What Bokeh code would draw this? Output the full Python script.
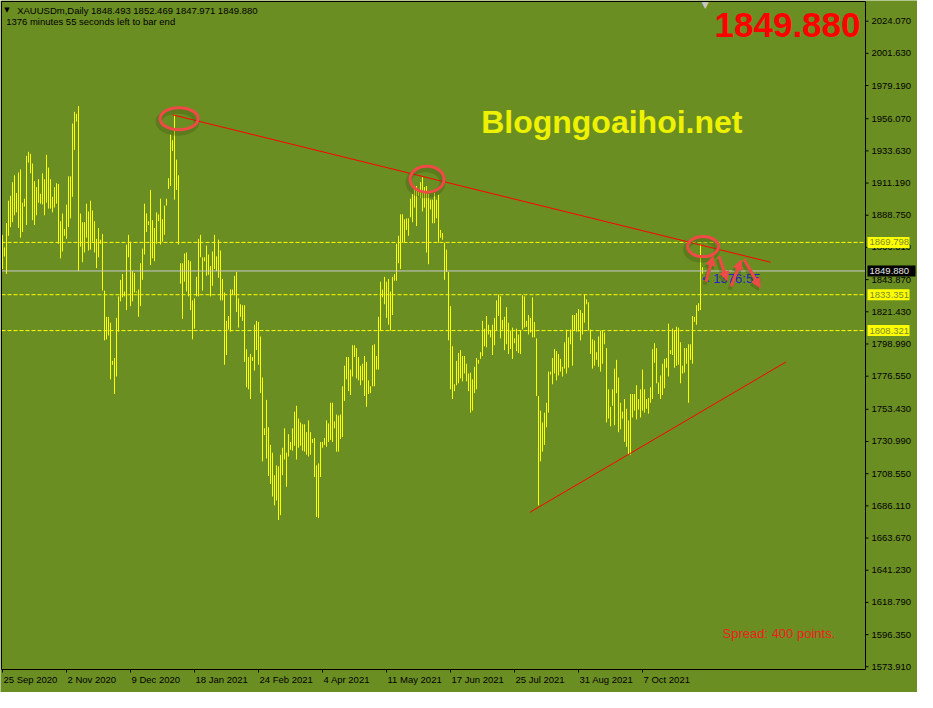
from bokeh.plotting import figure
from bokeh.models import Range1d, Label, Arrow, NormalHead, ColumnDataSource
from bokeh.core.properties import value
from bokeh.embed import file_html
from bokeh.resources import INLINE

# ---------------- data ----------------
symbol = "XAUUSDm,Daily"
last_ohlc = [1848.493, 1852.469, 1847.971, 1849.880]
current_price = 1849.880
countdown_text = "1376 minutes 55 seconds left to bar end"
countdown_short = "< 1376:55"
spread_text = "Spread: 400 points."
watermark = "Blogngoaihoi.net"

highs = [
    1875.1, 1866.3, 1883.3, 1898.9, 1902.3, 1911.8, 1916.6, 1904.3, 1918.6, 1920.7,
    1897.5, 1900.3, 1930.2, 1933.0, 1931.6, 1924.8, 1912.5, 1908.4, 1913.9, 1903.7,
    1918.0, 1913.9, 1930.9, 1922.0, 1913.9, 1901.6, 1908.4, 1911.1, 1910.5, 1884.6,
    1890.0, 1879.1, 1896.2, 1915.9, 1915.9, 1952.7, 1960.9, 1959.5, 1964.9, 1890.0,
    1883.9, 1883.9, 1896.8, 1891.4, 1898.9, 1892.1, 1884.6, 1872.3, 1879.8, 1871.7,
    1875.7, 1836.2, 1817.9, 1817.9, 1813.8, 1787.2, 1789.2, 1817.2, 1832.2, 1843.7,
    1847.8, 1835.6, 1868.3, 1875.1, 1870.3, 1849.9, 1848.5, 1835.6, 1837.0, 1855.3,
    1865.5, 1896.8, 1890.0, 1884.6, 1906.4, 1885.3, 1879.8, 1890.8, 1889.4, 1900.3,
    1886.0, 1895.5, 1900.3, 1914.6, 1945.2, 1941.1, 1958.8, 1927.5, 1916.6, 1855.3,
    1855.3, 1862.1, 1862.8, 1857.4, 1856.7, 1829.4, 1830.8, 1845.8, 1872.3, 1875.1,
    1859.4, 1859.4, 1867.6, 1861.4, 1853.3, 1863.5, 1875.1, 1860.1, 1871.7, 1864.2,
    1844.4, 1834.9, 1815.1, 1818.5, 1837.0, 1837.0, 1846.5, 1849.2, 1830.8,
    1826.7, 1826.0, 1826.0, 1795.4, 1789.9, 1792.0, 1789.9, 1812.4, 1815.1, 1814.4,
    1804.2, 1775.6, 1740.2, 1760.0, 1740.9, 1728.6, 1723.2, 1707.5, 1714.3, 1713.7,
    1721.8, 1726.6, 1740.2, 1723.2, 1736.1, 1730.7, 1740.2, 1751.8, 1755.9, 1747.0,
    1744.3, 1743.0, 1743.0, 1737.5, 1745.7, 1737.5, 1732.7, 1733.4, 1714.3, 1715.7,
    1730.7, 1730.7, 1733.4, 1745.7, 1743.6, 1758.0, 1758.0, 1745.0, 1749.8, 1749.1,
    1749.8, 1769.5, 1783.8, 1789.9, 1789.9, 1781.1, 1798.1, 1798.1, 1796.1, 1789.9,
    1783.8, 1785.2, 1790.6, 1786.5, 1773.6, 1769.5, 1798.1, 1798.8, 1790.6, 1817.9,
    1842.4, 1836.9, 1845.8, 1842.4, 1844.4, 1835.6, 1845.8, 1847.8, 1868.9, 1874.4,
    1889.4, 1889.4, 1886.0, 1886.6, 1886.6, 1900.3, 1903.7, 1909.1, 1909.1, 1905.0,
    1911.8, 1915.2, 1908.4, 1909.1, 1903.7, 1899.6, 1899.6, 1904.3, 1899.6, 1903.0,
    1878.5, 1876.4, 1869.6, 1864.8, 1849.2, 1825.4, 1797.4, 1770.9, 1787.2, 1792.7,
    1794.7, 1790.6, 1790.6, 1785.2, 1778.4, 1779.0,
    1774.3, 1783.1, 1789.2, 1787.9, 1793.3, 1815.1, 1809.7, 1818.5, 1812.4, 1808.3,
    1812.4, 1817.2, 1829.4, 1833.5, 1832.2, 1815.8, 1817.9, 1824.7, 1813.8, 1808.3,
    1810.4, 1802.9, 1809.7, 1805.6, 1808.3, 1832.9, 1832.2, 1815.1, 1819.2, 1817.2,
    1831.5, 1814.4, 1802.9, 1762.7, 1752.5, 1744.3, 1751.1, 1758.0, 1779.7, 1779.7,
    1789.2, 1795.4, 1794.0, 1792.0, 1788.6, 1783.1, 1800.2, 1809.0, 1803.6, 1809.0,
    1819.2, 1819.2, 1820.6, 1823.3, 1822.6, 1820.6, 1833.5, 1830.1, 1828.1, 1809.0,
    1802.2, 1801.5, 1793.3, 1804.2, 1808.3, 1808.3, 1807.0, 1796.1, 1767.4, 1755.2,
    1767.4, 1781.8, 1787.9, 1775.6, 1758.0, 1751.8, 1760.6, 1753.8, 1745.7, 1764.1,
    1764.1, 1764.1, 1770.2, 1760.6, 1767.4, 1781.1, 1767.4, 1760.6, 1761.3, 1768.8,
    1795.4, 1799.5, 1796.1, 1772.2, 1777.0, 1785.2, 1788.6, 1789.2, 1813.1, 1794.7,
    1809.7, 1808.3, 1811.0, 1810.4, 1800.2, 1783.8, 1796.1, 1796.1, 1798.8, 1798.8,
    1818.5, 1817.9, 1826.0, 1827.4, 1868.3, 1852.5,
]
lows = [
    1851.2, 1860.0, 1847.8, 1874.4, 1880.5, 1883.9, 1888.7, 1890.8, 1879.9, 1873.1,
    1877.1, 1894.8, 1881.9, 1925.5, 1918.0, 1885.3, 1881.9, 1888.7, 1897.5, 1896.8,
    1896.2, 1888.7, 1897.5, 1893.4, 1893.4, 1890.8, 1894.1, 1896.8, 1868.9, 1858.7,
    1863.5, 1874.4, 1872.3, 1880.5, 1886.6, 1901.6, 1934.3, 1954.1, 1849.9, 1866.9,
    1856.0, 1862.8, 1873.1, 1864.2, 1864.8, 1870.3, 1862.8, 1851.9, 1859.4, 1868.9,
    1836.2, 1801.5, 1802.2, 1804.9, 1774.3, 1784.5, 1764.1, 1776.3, 1807.6, 1828.7,
    1831.5, 1832.2, 1822.6, 1859.4, 1825.4, 1828.7, 1834.9, 1834.9, 1817.9, 1825.4,
    1843.7, 1861.4, 1877.1, 1881.9, 1854.0, 1858.7, 1856.7, 1868.9, 1884.6, 1868.3,
    1870.3, 1875.1, 1895.5, 1907.1, 1909.1, 1933.6, 1899.6, 1906.4, 1868.3, 1841.0,
    1816.5, 1842.4, 1835.6, 1832.2, 1822.6, 1802.2, 1809.7, 1832.2, 1832.2, 1859.4,
    1836.2, 1856.7, 1846.5, 1847.2, 1832.2, 1839.6, 1851.2, 1849.9, 1845.1, 1829.4,
    1829.4, 1784.5, 1791.3, 1809.0, 1807.6, 1833.5, 1832.9, 1821.3, 1810.4,
    1817.9, 1815.1, 1786.5, 1768.8, 1767.4, 1760.6, 1787.2, 1780.4, 1794.7, 1784.5,
    1764.7, 1717.1, 1735.5, 1719.1, 1706.9, 1701.4, 1692.6, 1686.4, 1689.8, 1676.2,
    1679.6, 1707.5, 1718.4, 1699.4, 1720.5, 1725.2, 1724.6, 1728.0, 1718.4, 1726.6,
    1728.0, 1724.6, 1723.9, 1721.8, 1720.5, 1721.8, 1730.0, 1706.2, 1678.3, 1677.6,
    1706.2, 1726.6, 1728.6, 1727.3, 1730.7, 1732.1, 1730.7, 1740.2, 1723.9, 1723.9,
    1732.7, 1734.1, 1759.3, 1774.3, 1766.1, 1763.4, 1776.3, 1789.9, 1775.0, 1773.6,
    1770.2, 1773.6, 1762.7, 1755.2, 1764.1, 1764.7, 1769.5, 1769.5, 1781.1, 1781.1,
    1808.3, 1831.5, 1826.7, 1817.2, 1812.4, 1808.3, 1819.2, 1843.1, 1843.1, 1855.3,
    1851.2, 1869.6, 1869.6, 1878.5, 1874.4, 1887.3, 1883.9, 1894.1, 1881.2, 1902.3,
    1900.9, 1891.4, 1894.1, 1862.8, 1854.6, 1892.8, 1883.2, 1883.2, 1886.6, 1869.6,
    1873.1, 1871.7, 1843.7, 1849.2, 1801.5, 1767.4, 1760.6, 1766.1, 1770.2, 1771.6,
    1775.0, 1772.9, 1778.4, 1772.9, 1766.1, 1751.1,
    1752.5, 1764.7, 1767.4, 1785.2, 1788.6, 1790.6, 1797.4, 1796.7, 1805.6, 1803.6,
    1791.3, 1798.1, 1808.3, 1818.5, 1802.9, 1809.0, 1794.7, 1798.8, 1792.0, 1795.4,
    1788.6, 1799.5, 1794.0, 1792.7, 1792.0, 1809.0, 1810.4, 1811.0, 1805.6, 1807.0,
    1803.6, 1803.6, 1762.7, 1686.4, 1717.1, 1723.9, 1728.6, 1740.9, 1751.1, 1777.7,
    1770.9, 1778.4, 1773.6, 1777.0, 1779.7, 1776.3, 1781.8, 1778.4, 1782.5, 1798.8,
    1783.8, 1808.3, 1807.6, 1807.6, 1801.5, 1805.6, 1813.8, 1826.7, 1808.3, 1792.0,
    1781.8, 1783.8, 1787.9, 1783.1, 1779.7, 1785.2, 1798.8, 1744.3, 1747.0, 1741.6,
    1755.9, 1742.3, 1764.7, 1737.5, 1739.5, 1747.0, 1730.7, 1727.3, 1721.8, 1721.8,
    1747.7, 1752.5, 1746.4, 1753.2, 1747.7, 1752.5, 1751.1, 1753.8, 1750.4, 1758.0,
    1760.6, 1785.8, 1771.6, 1764.1, 1760.6, 1763.4, 1768.1, 1782.4, 1776.3, 1792.0,
    1791.3, 1782.4, 1783.8, 1784.5, 1771.6, 1778.4, 1779.0, 1785.2, 1758.0, 1787.9,
    1785.2, 1814.4, 1812.4, 1822.0, 1822.6, 1848.0,
]
bar_index = list(range(len(highs)))

date_labels = ["25 Sep 2020", "2 Nov 2020", "9 Dec 2020", "18 Jan 2021", "24 Feb 2021",
               "4 Apr 2021", "11 May 2021", "17 Jun 2021", "25 Jul 2021", "31 Aug 2021",
               "7 Oct 2021"]
date_label_bars = [0, 32, 64, 96, 128, 160, 192, 224, 256, 288, 320]

price_ticks = [2024.07, 2001.63, 1979.19, 1956.07, 1933.63, 1911.19, 1888.75, 1866.31,
               1843.87, 1821.43, 1798.99, 1776.55, 1753.43, 1730.99, 1708.55, 1686.11,
               1663.67, 1641.23, 1618.79, 1596.35, 1573.91]

level_lines = [1869.798, 1833.351, 1808.321]

upper_trend_x = [85.0, 384.0]
upper_trend_y = [1958.8, 1856.0]
lower_trend_x = [263.8, 391.8]
lower_trend_y = [1681.7, 1786.5]

ring_x = [88.3, 212.3, 350.3]
ring_y = [1956.1, 1913.9, 1866.9]
ring_w = [38, 34, 31]
ring_h = [22, 26, 20]

arrow_x0 = [351.8, 358.3, 364.3, 370.8]
arrow_y0 = [1842.4, 1860.1, 1839.0, 1858.1]
arrow_x1 = [355.3, 362.3, 369.3, 378.8]
arrow_y1 = [1860.1, 1843.1, 1857.4, 1838.3]

# ---------------- style / geometry ----------------
BG = "#6B8E23"
BAR = "#FFFF00"
RED = "#FF0000"
RING = "#F04A46"
SHADOW = "#3F5A12"
FONT = "Liberation Sans"

W, H = 917, 692
BX = 0.5                       # bars per pixel (2 px per bar)
XL = -1.0                      # canvas left edge in bar units
XR = XL + W * BX
CX0 = XL + 1 * BX              # chart box left
CX1 = XL + 865 * BX            # chart box right (price scale starts here)
CY1, CY0 = 2037.8, 1572.0      # chart box top / bottom prices
SY = (CY1 - CY0) / 668.0       # price per pixel
YT = CY1 + 1 * SY
YB = CY0 - 23 * SY

def rx(px):
    return (px - 2.33) / 2.0

def ry(py):
    return 2038.5 - 0.681 * py

p = figure(width=W, height=H, x_range=Range1d(XL, XR), y_range=Range1d(YB, YT),
           output_backend="svg", toolbar_location=None,
           x_axis_location=None, y_axis_location=None,
           background_fill_color=BG, border_fill_color=BG,
           min_border=0, outline_line_color=None)
p.xgrid.visible = False
p.ygrid.visible = False

# bars
src = ColumnDataSource(dict(x=bar_index, high=highs, low=lows))
p.segment(x0="x", y0="low", x1="x", y1="high", source=src, line_color=BAR, line_width=1)

# horizontal levels
for lv in level_lines:
    p.line([CX0, CX1], [lv, lv], line_color=BAR, line_width=1, line_dash="4 2")
p.line([CX0, CX1], [current_price, current_price], line_color="#C8C8C8", line_width=1)

# trend lines
p.line(upper_trend_x, upper_trend_y, line_color=RED, line_width=1)
p.line(lower_trend_x, lower_trend_y, line_color=RED, line_width=1)

# chart box
p.line([CX0, CX1, CX1, CX0, CX0], [CY1, CY1, CY0, CY0, CY1], line_color="black", line_width=1)

# price scale (right)
p.segment(x0=[CX1] * len(price_ticks), x1=[CX1 + 3 * BX] * len(price_ticks),
          y0=price_ticks, y1=price_ticks, line_color="black", line_width=1)
p.text(x=[CX1 + 6 * BX] * len(price_ticks), y=price_ticks,
       text=["%.3f" % t for t in price_ticks], text_font=value(FONT),
       text_font_size=value("9.5px"), text_color="black",
       text_align="left", text_baseline="middle")

# time scale (bottom)
p.segment(x0=date_label_bars, x1=date_label_bars,
          y0=[CY0] * len(date_label_bars), y1=[CY0 - 3 * SY] * len(date_label_bars),
          line_color="black", line_width=1)
p.text(x=[b + 1 * BX for b in date_label_bars], y=[CY0 - 4 * SY] * len(date_label_bars),
       text=date_labels, text_font=value(FONT), text_font_size=value("9.5px"),
       text_color="black", text_align="left", text_baseline="top")

# price tags on scale
tag_w = 42
p.rect(x=[CX1 + (2 + tag_w / 2) * BX] * len(level_lines), y=level_lines,
       width=tag_w, height=11, width_units="screen", height_units="screen",
       fill_color="#FFFF00", line_color=None)
p.text(x=[CX1 + 4 * BX] * len(level_lines), y=level_lines,
       text=["%.3f" % v for v in level_lines], text_font=value(FONT),
       text_font_size=value("9.5px"), text_color="#7A8A30",
       text_align="left", text_baseline="middle")
p.rect(x=[CX1 + (2 + 48 / 2) * BX], y=[current_price], width=48, height=11,
       width_units="screen", height_units="screen", fill_color="black", line_color=None)
p.text(x=[CX1 + 4 * BX], y=[current_price], text=["%.3f" % current_price],
       text_font=value(FONT), text_font_size=value("9.5px"), text_color="#E8E8E8",
       text_align="left", text_baseline="middle")

# rings with shadow
p.ellipse(x=[v - 1.5 * BX for v in ring_x], y=[v - 3 * SY for v in ring_y],
          width=ring_w, height=ring_h, width_units="screen", height_units="screen",
          fill_color=None, line_color=SHADOW, line_alpha=0.35, line_width=6)
p.ellipse(x=ring_x, y=ring_y, width=ring_w, height=ring_h,
          width_units="screen", height_units="screen",
          fill_color=None, line_color=RING, line_width=3)

# countdown near last bar
p.add_layout(Label(x=rx(702), y=ry(285), text=countdown_short, text_font=FONT,
                   text_font_size="13px", text_color="#2222CC",
                   text_align="left", text_baseline="middle"))

# arrows with shadow
for x0, y0, x1, y1 in zip(arrow_x0, arrow_y0, arrow_x1, arrow_y1):
    p.add_layout(Arrow(end=NormalHead(size=9, fill_color=SHADOW, line_color=SHADOW,
                                      fill_alpha=0.35, line_alpha=0.35),
                       x_start=x0 - 1.5 * BX, y_start=y0 - 3 * SY,
                       x_end=x1 - 1.5 * BX, y_end=y1 - 3 * SY,
                       line_color=SHADOW, line_alpha=0.35, line_width=4))
for x0, y0, x1, y1 in zip(arrow_x0, arrow_y0, arrow_x1, arrow_y1):
    p.add_layout(Arrow(end=NormalHead(size=9, fill_color=RING, line_color=RING),
                       x_start=x0, y_start=y0, x_end=x1, y_end=y1,
                       line_color=RING, line_width=3))

# header and corner texts
header = "%s  %.3f %.3f %.3f %.3f" % (symbol, *last_ohlc)
p.add_layout(Label(x=rx(4), y=ry(10), text="\u25BC", text_font="DejaVu Sans",
                   text_font_size="7px", text_color="black",
                   text_align="left", text_baseline="middle"))
p.add_layout(Label(x=rx(17), y=ry(10), text=header, text_font=FONT,
                   text_font_size="9.5px", text_color="black",
                   text_align="left", text_baseline="middle"))
p.add_layout(Label(x=rx(6), y=ry(22), text=countdown_text, text_font=FONT,
                   text_font_size="9.5px", text_color="black",
                   text_align="left", text_baseline="middle"))
p.add_layout(Label(x=rx(705), y=ry(5), text="\u25BC", text_font="DejaVu Sans",
                   text_font_size="9px", text_color="#C8C8C8",
                   text_align="center", text_baseline="middle"))
p.add_layout(Label(x=CX1 - 5 * BX, y=ry(25), text="%.3f" % current_price, text_font=FONT,
                   text_font_size="35px", text_font_style="bold", text_color=RED,
                   text_align="right", text_baseline="middle"))
p.add_layout(Label(x=rx(481), y=ry(124), text=watermark, text_font=FONT,
                   text_font_size="32px", text_font_style="bold", text_color="#EEF200",
                   text_align="left", text_baseline="middle"))
p.add_layout(Label(x=CX1 - 143 * BX, y=ry(648), text=spread_text, text_font=FONT,
                   text_font_size="13px", text_color="#F02020",
                   text_align="left", text_baseline="middle"))

open("out.html", "w").write(file_html(p, INLINE))
